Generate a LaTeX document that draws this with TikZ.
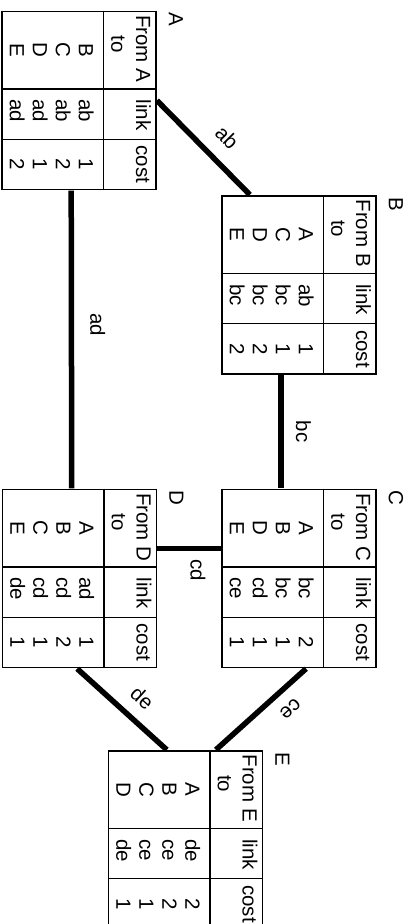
\documentclass[tikz,border=0pt]{standalone}
\usepackage{fontspec}
\setmainfont{Liberation Sans}
\usepackage{array}
\usepackage{tikz}
\usetikzlibrary{positioning,calc}

\setlength{\tabcolsep}{3pt}
\setlength{\arrayrulewidth}{1.4pt}

% one routing table: node letter, then four rows "to & link & cost"
\newcommand{\routetab}[5]{%
  \begin{tabular}{|>{\centering\arraybackslash}p{70pt}|@{\hspace{10pt}}>{\raggedright\arraybackslash}p{37pt}@{\hspace{2pt}}|>{\centering\arraybackslash}p{43pt}|}
    \hline
    \raggedright\rule{0pt}{19pt}From #1 & link & cost\\
    \raggedright\rule[-7pt]{0pt}{25pt}\hspace*{1em}to & & \\
    \hline
    \rule{0pt}{24pt}#2\\
    #3\\
    #4\\
    \rule[-7pt]{0pt}{7pt}#5\\
    \hline
  \end{tabular}}

\begin{document}
\begin{tikzpicture}[x=1pt, y=-1pt, thick, font=\fontsize{20.5pt}{23pt}\selectfont]
    \tikzstyle{rtab} = [inner sep=0pt, rotate=-90]
    \tikzstyle{tabtitle} = [inner sep=0pt, rotate=-90, anchor=base west]
    \tikzstyle{wire} = [line width=5.5pt]
    \tikzstyle{lbl} = [inner sep=0pt, sloped, allow upside down]

    \useasboundingbox (0,0) rectangle (413,924);

    \node [rtab] (A) at (79,100.5) {\routetab{A}{B & ab & 1}{C & ab & 2}{D & ad & 1}{E & ad & 2}};
    \node [rtab] (B) at (299,285) {\routetab{B}{A & ab & 1}{C & bc & 1}{D & bc & 2}{E & bc & 2}};
    \node [rtab] (C) at (299,578.5) {\routetab{C}{A & bc & 2}{B & bc & 1}{D & cd & 1}{E & ce & 1}};
    \node [rtab] (D) at (79.5,578.5) {\routetab{D}{A & ad & 1}{B & cd & 2}{C & cd & 1}{E & de & 1}};
    \node [rtab] (E) at (185.5,840) {\routetab{E}{A & de & 2}{B & ce & 2}{C & ce & 1}{D & de & 1}};

    \node [tabtitle] (tA) at ([shift={(12,2)}]A.north west) {A};
    \node [tabtitle] (tB) at ([shift={(12,2)}]B.north west) {B};
    \node [tabtitle] (tC) at ([shift={(12,2)}]C.north west) {C};
    \node [tabtitle] (tD) at ([shift={(12,2)}]D.north west) {D};
    \node [tabtitle] (tE) at ([shift={(12,2)}]E.north west) {E};

    \draw [wire] (A.north) -- node [lbl, above=14pt, pos=0.57] (lab) {ab} ($(B.south west)!0.37!(B.west)$);
    \draw [wire] ($(A.east)!0.1!(A.south east)$) -- node [lbl, above=16pt, pos=0.45] (lad) {ad} ($(D.west)!0.1!(D.south west)$);
    \draw [wire] ($(B.east)!0.23!(B.south east)$) -- node [lbl, above=12pt, pos=0.5] (lbc) {bc} ($(C.west)!0.23!(C.south west)$);
    \draw [wire] ($(D.north)!0.33!(D.north west)$) -- node [rotate=-90, inner ysep=0pt, inner xsep=8pt, anchor=base west, pos=0.52] (lcd) {cd} ($(C.south)!0.33!(C.south west)$);
    \draw [wire] ($(C.east)!0.09!(C.north east)$) -- node [lbl, above=11pt, pos=0.32] (lce) {ce} ($(E.west)!0.39!(E.north west)$);
    \draw [wire] ($(D.east)!0.03!(D.south east)$) -- node [lbl, above=12pt, pos=0.56] (lde) {de} ($(E.west)!0.24!(E.south west)$);
\end{tikzpicture}
\end{document}
